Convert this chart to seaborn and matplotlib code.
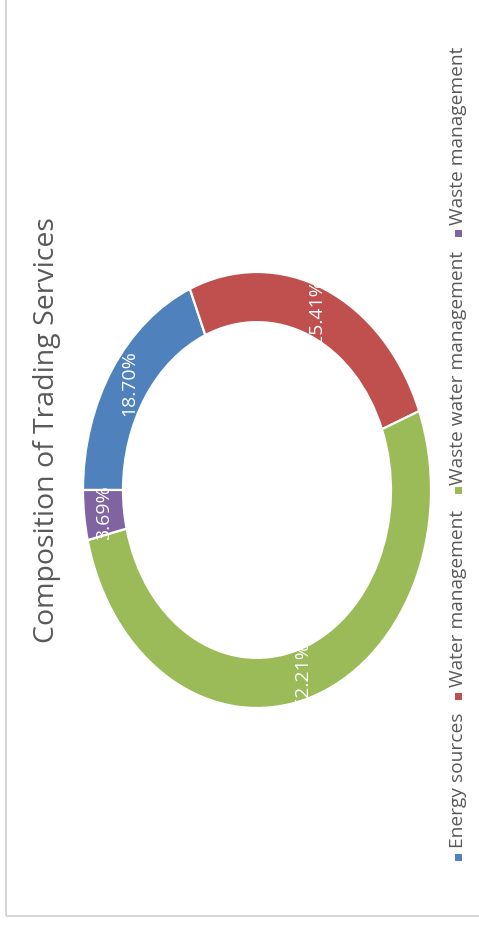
import matplotlib
matplotlib.use("Agg")
import matplotlib.pyplot as plt
import seaborn as sns
from matplotlib.patches import Rectangle

# ---- data ----
categories = ["Energy sources", "Water management", "Waste water management", "Waste management"]
values = [18.70, 25.41, 52.21, 3.69]
colors = ["#4F81BD", "#C0504D", "#9BBB59", "#8064A2"]
title = "Composition of Trading Services"

sns.set_theme(style="white")
plt.rcParams["font.family"] = ["Open Sans", "DejaVu Sans"]

W, H = 479, 930
fig = plt.figure(figsize=(W / 100, H / 100), dpi=100)
fig.patch.set_facecolor("white")

def fx(px):
    return px / W

def fy(py):
    return 1 - py / H

# chart border (only left and bottom edges visible in reference)
fig.patches.append(Rectangle((fx(6), fy(916)), fx(500), fy(-20) - fy(916),
                             transform=fig.transFigure, fill=False,
                             edgecolor="#D0D0D0", linewidth=1.2, zorder=0))

# donut axes (ellipse: stretched)
left, right, top, bottom = 83, 431, 272, 708
ax = fig.add_axes([fx(left), fy(bottom), fx(right - left), (bottom - top) / H])
pal = sns.color_palette(colors)
total = sum(values)
inner = 0.77
wedges, texts, autotexts = ax.pie(
    values, colors=pal, startangle=180, counterclock=False,
    radius=1.0,
    wedgeprops=dict(width=1 - inner, edgecolor="white", linewidth=1.6),
    autopct=lambda p: f"{p * total / 100:.2f}%",
    pctdistance=(1 + inner) / 2,
    textprops=dict(color="white", fontsize=14, rotation=90),
)
for t in autotexts:
    t.set_rotation(90)
    t.set_ha("center")
    t.set_va("center")
ax.set_aspect("auto")
ax.set_xlim(-1, 1)
ax.set_ylim(-1, 1)
ax.axis("off")

# title (rotated)
fig.text(fx(47), fy(430), title, rotation=90, ha="center", va="center",
         fontsize=20.5, color="#595959")

# legend (rotated, manual layout)
sq_centers = [857, 697, 491, 234]
text_starts = [848, 687, 485, 225]
lx = 458
sq = 7
for cat, col, sc, ts in zip(categories, colors, sq_centers, text_starts):
    fig.patches.append(Rectangle((fx(lx - sq / 2), fy(sc + sq / 2)), sq / W, sq / H,
                                 transform=fig.transFigure, facecolor=col,
                                 edgecolor="none"))
    fig.text(fx(lx), fy(ts), cat, rotation=90, ha="center", va="bottom",
             fontsize=13.8, color="#595959")

fig.savefig("out.png", dpi=100, facecolor="white")
